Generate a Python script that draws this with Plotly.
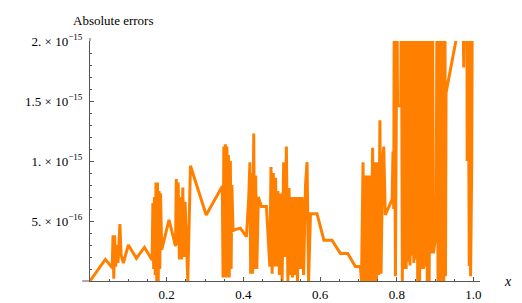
import plotly.graph_objects as go

# x positions and absolute errors (in units of 1e-16)
x_vals = [
    0.000, 0.040, 0.058, 0.060, 0.062, 0.064, 0.067, 0.070, 0.073, 0.078,
    0.081, 0.087, 0.100, 0.121, 0.142, 0.162, 0.164, 0.166, 0.168, 0.170,
    0.172, 0.174, 0.176, 0.178, 0.180, 0.182, 0.184, 0.187, 0.206, 0.223,
    0.225, 0.228, 0.230, 0.233, 0.236, 0.239, 0.242, 0.245, 0.248, 0.251,
    0.255, 0.262, 0.303, 0.345, 0.347, 0.349, 0.351, 0.353, 0.355, 0.357,
    0.359, 0.361, 0.363, 0.366, 0.368, 0.370, 0.373, 0.380, 0.392, 0.408,
    0.414, 0.417, 0.419, 0.422, 0.424, 0.427, 0.429, 0.432, 0.435, 0.439,
    0.447, 0.460, 0.469, 0.472, 0.475, 0.478, 0.481, 0.484, 0.487, 0.490,
    0.494, 0.497, 0.501, 0.505, 0.508, 0.512, 0.516, 0.519, 0.522, 0.525,
    0.528, 0.531, 0.534, 0.537, 0.541, 0.545, 0.549, 0.553, 0.557, 0.562,
    0.566, 0.570, 0.575, 0.592, 0.610, 0.631, 0.653, 0.672, 0.692, 0.705,
    0.708, 0.712, 0.715, 0.718, 0.721, 0.724, 0.727, 0.730, 0.733, 0.737,
    0.740, 0.744, 0.747, 0.750, 0.753, 0.756, 0.759, 0.763, 0.766, 0.770,
    0.788, 0.790, 0.792, 0.7935, 0.7965, 0.8005, 0.802, 0.8105, 0.812, 0.8145,
    0.817, 0.8195, 0.822, 0.8245, 0.827, 0.8295, 0.832, 0.8345, 0.837, 0.8395,
    0.842, 0.8445, 0.847, 0.8495, 0.852, 0.8545, 0.857, 0.8595, 0.862, 0.8645,
    0.867, 0.8695, 0.872, 0.8745, 0.877, 0.8795, 0.882, 0.8845, 0.887, 0.8895,
    0.893, 0.8955, 0.9025, 0.905, 0.9075, 0.910, 0.9125, 0.915, 0.9175, 0.920,
    0.9225, 0.9255, 0.927, 0.9285, 0.966, 0.972, 0.9745, 0.977, 0.983, 0.9835,
    0.986, 0.989, 0.991, 0.9925, 0.9955, 0.997,
]
err_e16 = [
    0.0, 1.8, 1.1, 3.8, 0.2, 3.8, 1.2, 3.0, 1.5, 4.75,
    2.2, 1.5, 3.0, 1.9, 2.8, 1.75, 6.5, 1.0, 7.0, 0.5,
    8.2, 0.0, 8.2, 0.0, 7.5, 1.0, 7.3, 2.6, 5.1, 2.9,
    8.5, 3.0, 8.2, 1.8, 7.0, 1.8, 7.8, 2.0, 6.6, 4.0,
    0.0, 9.6, 5.5, 7.9, 0.3, 11.2, 0.5, 11.4, 0.3, 11.2,
    0.5, 10.5, 0.3, 10.0, 1.0, 8.0, 4.2, 4.3, 4.4, 3.7,
    7.0, 9.9, 0.6, 9.0, 0.6, 12.3, 1.0, 8.8, 1.0, 7.0,
    6.2, 6.2, 1.2, 9.5, 0.6, 9.0, 1.2, 8.6, 1.2, 7.5,
    0.5, 7.3, 0.0, 9.9, 2.0, 11.2, 0.0, 7.75, 0.5, 7.0,
    0.3, 7.0, 0.5, 7.0, 0.0, 7.0, 1.0, 7.0, 0.5, 8.0,
    9.9, 0.0, 5.6, 5.6, 3.4, 3.4, 2.3, 2.3, 1.2, 1.2,
    0.0, 9.9, 0.0, 8.8, 0.0, 8.8, 0.0, 8.8, 0.0, 11.1,
    0.0, 9.9, 0.0, 9.9, 0.5, 13.4, 0.6, 9.9, 11.2, 5.5,
    6.8, 10.8, 6.0, 25.0, 0.4, 25.0, 14.6, 14.6, 25.0, 0.0,
    25.0, 1.0, 25.0, 1.0, 25.0, 1.6, 25.0, 1.3, 25.0, 2.1,
    25.0, 1.5, 25.0, 1.8, 25.0, 0.0, 25.0, 0.0, 25.0, 1.0,
    25.0, 1.0, 25.0, 1.2, 25.0, 0.0, 25.0, 0.0, 25.0, 2.3,
    25.0, 2.3, 4.0, 25.0, 0.0, 25.0, 0.0, 25.0, 0.0, 25.0,
    0.0, 25.0, 0.4, 15.7, 22.0, 25.0, 17.8, 25.0, 25.0, 10.0,
    25.0, 1.25, 25.0, 0.4, 10.0, 25.0,
]

x_tick_vals = [0.2, 0.4, 0.6, 0.8, 1.0]
x_tick_text = ["0.2", "0.4", "0.6", "0.8", "1.0"]
y_tick_vals = [5e-16, 1e-15, 1.5e-15, 2e-15]
y_tick_text = ["5. \u00d7 10<sup>\u221216</sup>",
               "1. \u00d7 10<sup>\u221215</sup>",
               "1.5 \u00d7 10<sup>\u221215</sup>",
               "2. \u00d7 10<sup>\u221215</sup>"]
x_minor = [0.05 * i for i in range(1, 21)]
y_minor = [1e-16 * i for i in range(1, 21)]

y_vals = [v * 1e-16 for v in err_e16]

FONT = "Liberation Serif"
AXIS = "#555555"

fig = go.Figure()
fig.add_trace(go.Scatter(
    x=x_vals, y=y_vals, mode="lines",
    line=dict(color="#ff8000", width=3),
    hoverinfo="skip", showlegend=False,
))

fig.update_layout(
    width=522, height=303,
    margin=dict(l=90, r=42, t=41, b=22),
    paper_bgcolor="white", plot_bgcolor="white",
    font=dict(family=FONT, size=13, color="black"),
    xaxis=dict(
        range=[0, 1.017], showgrid=False, zeroline=False, automargin=False,
        showline=True, linecolor=AXIS, linewidth=1,
        ticks="inside", ticklen=4, tickcolor=AXIS, tickwidth=1,
        tickmode="array", tickvals=x_tick_vals, ticktext=x_tick_text,
        tickfont=dict(family=FONT, size=13, color="black"),
        ticklabelstandoff=1,
        minor=dict(tickmode="array", tickvals=x_minor, ticks="inside",
                   ticklen=2, tickcolor=AXIS),
    ),
    yaxis=dict(
        range=[0, 2e-15], showgrid=False, zeroline=False, automargin=False,
        showline=True, linecolor=AXIS, linewidth=1,
        ticks="inside", ticklen=4, tickcolor=AXIS, tickwidth=1,
        tickmode="array", tickvals=y_tick_vals, ticktext=y_tick_text,
        tickfont=dict(family=FONT, size=13, color="black"),
        ticklabelstandoff=4,
        minor=dict(tickmode="array", tickvals=y_minor, ticks="inside",
                   ticklen=2, tickcolor=AXIS),
    ),
    annotations=[
        dict(text="Absolute errors", xref="paper", yref="paper",
             x=-0.05, y=1.0875, xanchor="left", yanchor="middle",
             showarrow=False, font=dict(family=FONT, size=13, color="black")),
        dict(text="<i>x</i>", xref="paper", yref="paper",
             x=1.072, y=0.0, xanchor="center", yanchor="middle",
             showarrow=False, font=dict(family=FONT, size=14, color="black")),
    ],
    shapes=[
        dict(type="line", xref="paper", yref="paper", x0=-0.02, x1=0, y0=0, y1=0,
             line=dict(color=AXIS, width=1)),
        dict(type="line", xref="paper", yref="paper", x0=0, x1=0, y0=1, y1=1.012,
             line=dict(color=AXIS, width=1)),
    ],
)

fig.write_html("out.html", config={"displayModeBar": False},
               post_script="document.body.style.margin='0';")
